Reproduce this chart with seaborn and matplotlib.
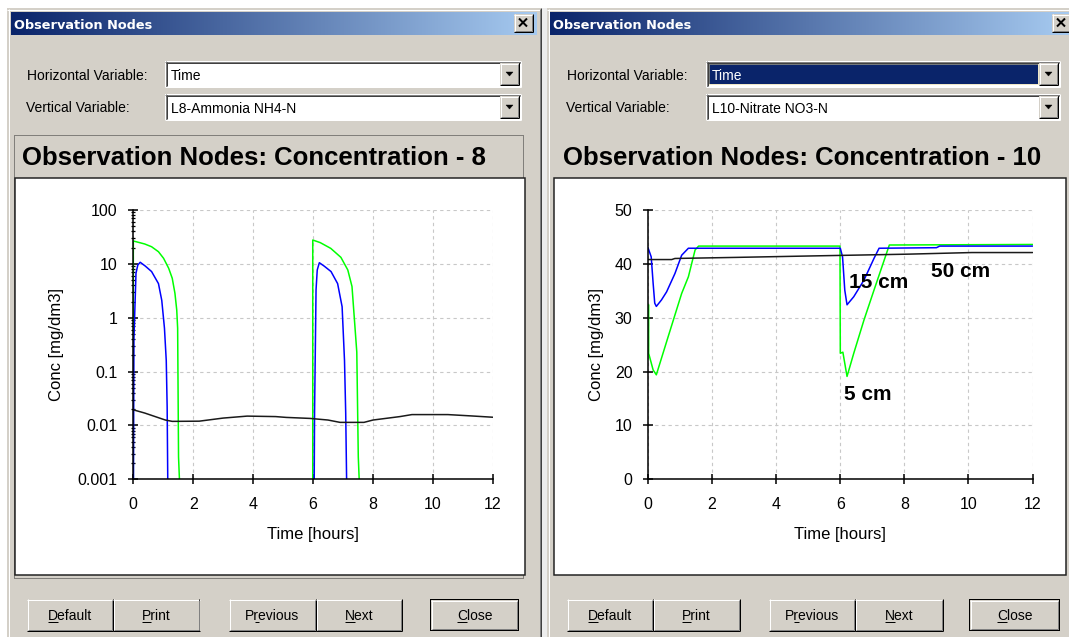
import numpy as np
import pandas as pd
import seaborn as sns
import matplotlib
matplotlib.use("Agg")
import matplotlib.pyplot as plt
from matplotlib.patches import Rectangle, Polygon
from matplotlib.lines import Line2D
from matplotlib.colors import LinearSegmentedColormap
from matplotlib.ticker import LogLocator, NullFormatter

# ---------------------------------------------------------------- data
time_ticks = [0, 2, 4, 6, 8, 10, 12]
nh4_ticks = [0.001, 0.01, 0.1, 1, 10, 100]
nh4_tick_labels = ["0.001", "0.01", "0.1", "1", "10", "100"]
no3_ticks = [0, 10, 20, 30, 40, 50]
no3_tick_labels = ["0", "10", "20", "30", "40", "50"]

nodes = ["5 cm", "15 cm", "50 cm"]
node_colors = {"5 cm": "#00FF00", "15 cm": "#0000FF", "50 cm": "#1A1A1A"}

# L8 - ammonia NH4-N [mg/dm3]; 1e-4 stands for "below 0.001"
nh4_5cm_t = [0.0, 0.0, 0.38, 0.61, 0.84, 1.01, 1.18, 1.30, 1.39, 1.45, 1.48,
             1.51, 1.54, 1.56, 5.99, 5.99, 6.24, 6.59, 6.93, 7.16, 7.30, 7.39,
             7.46, 7.51, 7.54, 7.56, 12.0]
nh4_5cm_c = [1e-4, 26.6, 23.4, 20.8, 16.8, 12.7, 8.3, 5.4, 2.84, 1.39, 0.64,
             0.0026, 0.001, 1e-4, 1e-4, 27.7, 24.8, 19.4, 13.2, 7.7, 3.8, 0.79,
             0.23, 0.0026, 0.001, 1e-4, 1e-4]

nh4_15cm_t = [0.0, 0.02, 0.09, 0.15, 0.23, 0.40, 0.61, 0.84, 0.95, 1.04, 1.10,
              1.13, 1.15, 1.17, 6.03, 6.05, 6.10, 6.14, 6.21, 6.37, 6.60, 6.82,
              6.97, 7.05, 7.09, 7.12, 7.14, 12.0]
nh4_15cm_c = [1e-4, 0.39, 6.7, 9.5, 10.7, 9.1, 7.2, 4.3, 2.1, 0.64, 0.16,
              0.022, 0.001, 1e-4, 1e-4, 0.017, 3.3, 7.7, 10.5, 9.1, 7.2, 4.3,
              1.6, 0.16, 0.017, 0.001, 1e-4, 1e-4]

nh4_50cm_t = [0.0, 0.38, 1.07, 1.30, 2.20, 3.00, 3.80, 4.75, 5.10, 5.90, 6.50,
              6.90, 7.70, 8.00, 8.90, 9.30, 10.50, 11.30, 12.0]
nh4_50cm_c = [0.0195, 0.0170, 0.0126, 0.0119, 0.0120, 0.0137, 0.0149, 0.0146,
              0.0141, 0.0135, 0.0126, 0.0114, 0.0114, 0.0126, 0.0146, 0.0159,
              0.0159, 0.0150, 0.0142]

# L10 - nitrate NO3-N [mg/dm3]
no3_5cm_t = [0.02, 0.02, 0.16, 0.26, 0.63, 1.05, 1.26, 1.47, 1.58, 5.99, 6.00,
             6.08, 6.21, 6.42, 6.74, 7.05, 7.37, 7.53, 12.0]
no3_5cm_c = [32.4, 23.4, 20.3, 19.4, 26.5, 34.5, 37.6, 42.6, 43.3, 43.3, 23.4,
             23.6, 19.1, 23.4, 29.6, 35.1, 40.7, 43.5, 43.6]

no3_15cm_t = [0.0, 0.10, 0.16, 0.21, 0.26, 0.42, 0.58, 0.84, 1.05, 1.26, 6.00,
              6.07, 6.14, 6.21, 6.42, 6.74, 7.05, 7.21, 9.00, 9.10, 12.0]
no3_15cm_c = [43.0, 41.3, 36.4, 32.7, 32.1, 33.3, 34.8, 38.2, 41.6, 42.9, 42.9,
              41.3, 35.1, 32.4, 33.9, 37.0, 41.0, 42.9, 43.0, 43.3, 43.3]

no3_50cm_t = [0.0, 0.74, 0.84, 2.74, 5.37, 8.10, 10.10, 12.0]
no3_50cm_c = [40.8, 40.8, 41.0, 41.2, 41.5, 41.8, 42.1, 42.1]


def frame(series):
    return pd.concat(
        [pd.DataFrame({"time": t, "conc": c, "node": n}) for n, t, c in series],
        ignore_index=True)


nh4 = frame([("5 cm", nh4_5cm_t, nh4_5cm_c),
             ("15 cm", nh4_15cm_t, nh4_15cm_c),
             ("50 cm", nh4_50cm_t, nh4_50cm_c)])
no3 = frame([("5 cm", no3_5cm_t, no3_5cm_c),
             ("15 cm", no3_15cm_t, no3_15cm_c),
             ("50 cm", no3_50cm_t, no3_50cm_c)])

# ---------------------------------------------------------------- style
sns.set_theme(style="white")
plt.rcParams["font.family"] = ["Liberation Sans", "DejaVu Sans"]
plt.rcParams["text.color"] = "black"
plt.rcParams["axes.labelcolor"] = "black"
plt.rcParams["xtick.color"] = "black"
plt.rcParams["ytick.color"] = "black"

W, H, DPI = 1069, 637, 100
FACE = "#D4D0C8"
NAVY = "#0A246A"
PX = 72 / DPI

fig = plt.figure(figsize=(W / DPI, H / DPI), dpi=DPI, facecolor="white")
renderer = fig.canvas.get_renderer()


def box(x0, y0, x1, y1, fc, ec="none", lw=0, z=-10, **kw):
    r = Rectangle((x0 / W, 1 - y1 / H), (x1 - x0) / W, (y1 - y0) / H,
                  transform=fig.transFigure, facecolor=fc, edgecolor=ec,
                  linewidth=lw * PX, zorder=z, **kw)
    fig.add_artist(r)
    return r


def seg(xs, ys, color, lw=1, z=-9, **kw):
    fig.add_artist(Line2D([x / W for x in xs], [1 - y / H for y in ys],
                          transform=fig.transFigure, color=color,
                          linewidth=lw * PX, zorder=z,
                          solid_capstyle="butt", **kw))


def txt(x, y, s, z=5, **kw):
    return fig.text(x / W, 1 - y / H, s, zorder=z, **kw)


def raised(x0, y0, x1, y1, z=-8, fc=FACE):
    box(x0, y0, x1, y1, fc, z=z)
    seg([x0, x1], [y0 + 0.5] * 2, "white", z=z + 0.1)
    seg([x0 + 0.5] * 2, [y0, y1], "white", z=z + 0.1)
    seg([x0, x1], [y1 - 0.5] * 2, "#000000", z=z + 0.1)
    seg([x1 - 0.5] * 2, [y0, y1], "#000000", z=z + 0.1)
    seg([x0 + 1, x1 - 1], [y1 - 1.5] * 2, "#808080", z=z + 0.1)
    seg([x1 - 1.5] * 2, [y0 + 1, y1 - 1], "#808080", z=z + 0.1)


def sunken(x0, y0, x1, y1, fc="white", z=-8):
    box(x0, y0, x1, y1, fc, z=z)
    seg([x0, x1], [y0 + 0.5] * 2, "#808080", z=z + 0.1)
    seg([x0 + 0.5] * 2, [y0, y1], "#808080", z=z + 0.1)
    seg([x0 + 1, x1 - 1], [y0 + 1.5] * 2, "#404040", z=z + 0.1)
    seg([x0 + 1.5] * 2, [y0 + 1, y1 - 1], "#404040", z=z + 0.1)
    seg([x0, x1], [y1 - 0.5] * 2, "white", z=z + 0.1)
    seg([x1 - 0.5] * 2, [y0, y1], "white", z=z + 0.1)


def arrow_down(cx, cy, z=-7):
    pts = [((cx - 3.5) / W, 1 - (cy - 2) / H), ((cx + 3.5) / W, 1 - (cy - 2) / H),
           (cx / W, 1 - (cy + 2) / H)]
    fig.add_artist(Polygon(pts, closed=True, transform=fig.transFigure,
                           facecolor="black", edgecolor="black",
                           linewidth=0.3, zorder=z))


def text_width(s, **kw):
    t = fig.text(0, 0, s, **kw)
    w = t.get_window_extent(renderer).width
    t.remove()
    return w


def button(label, x0, x1, ul=0, default=False, y0=599, y1=631):
    if default:
        box(x0, y0, x1, y1, "black", z=-8.5)
        raised(x0 + 1, y0 + 1, x1 - 1, y1 - 1)
    else:
        raised(x0, y0, x1, y1)
    cx = (x0 + x1) / 2
    kw = dict(fontsize=10, color="black")
    txt(cx, 620, label, ha="center", va="baseline", **kw)
    wf = text_width(label, **kw)
    wp = text_width(label[:ul], **kw) if ul else 0.0
    wc = text_width(label[ul], **kw)
    xs = cx - wf / 2 + wp
    seg([xs, xs + wc], [622, 622], "black", lw=1, z=5)


def title_bar(x0, x1, y0=12, y1=35, close_x=None):
    axg = fig.add_axes([x0 / W, 1 - y1 / H, (x1 - x0) / W, (y1 - y0) / H],
                       zorder=-5)
    grad = np.linspace(0, 1, 256)[None, :]
    cmap = LinearSegmentedColormap.from_list("caption", [NAVY, "#A6CAF0"])
    axg.imshow(grad, aspect="auto", cmap=cmap, extent=(0, 1, 0, 1))
    axg.set_axis_off()
    txt(x0 + 3, 29, "Observation Nodes", fontsize=9.3, fontweight="bold",
        color="white", family="DejaVu Sans", va="baseline")
    if close_x is not None:
        bx0, bx1, by0, by1 = close_x, close_x + 19, 14, 32
        raised(bx0, by0, bx1, by1, z=-4)
        cx, cy = (bx0 + bx1) / 2 - 0.5, (by0 + by1) / 2 - 0.5
        seg([cx - 4, cx + 4], [cy - 4, cy + 4], "black", lw=2, z=-3)
        seg([cx - 4, cx + 4], [cy + 4, cy - 4], "black", lw=2, z=-3)


def combo(x0, x1, y0, y1, text, highlight=False):
    sunken(x0, y0, x1, y1)
    bx0, bx1 = x1 - 21, x1 - 2
    if highlight:
        box(x0 + 3, y0 + 3, bx0 - 1, y1 - 3, NAVY, z=-7)
        box(x0 + 3, y0 + 3, bx0 - 1, y1 - 3, "none", ec="#E0D090", lw=1,
            z=-6.9, linestyle=(0, (1, 1)))
    raised(bx0, y0 + 2, bx1, y1 - 2, z=-7.5)
    arrow_down((bx0 + bx1) / 2, (y0 + y1) / 2)
    txt(x0 + 6, y1 - 7, text, fontsize=10, va="baseline",
        color="white" if highlight else "black")


def dialog(x0, x1):
    box(x0, 8, x1, H, FACE, z=-12)
    seg([x0, x1], [9.5, 9.5], "white", z=-11)
    seg([x0 + 1.5] * 2, [9, H], "white", z=-11)
    seg([x1 - 0.5] * 2, [8, H], "#404040", z=-11)
    seg([x1 - 1.5] * 2, [9, H], "#808080", z=-11)


# ---------------------------------------------------------------- chrome
box(541, 8, 547, H, "#EDEDED", z=-13)
dialog(7, 541)
dialog(547, W + 3)
title_bar(11, 537, close_x=514)
title_bar(550, W, close_x=1052)

for lx, cx0, cx1, vtext, hl in [(27, 165, 521, "L8-Ammonia NH4-N", False),
                                (567, 706, 1060, "L10-Nitrate NO3-N", True)]:
    txt(lx, 80, "Horizontal Variable:", fontsize=10, va="baseline")
    txt(lx - 1, 112, "Vertical Variable:", fontsize=10, va="baseline")
    combo(cx0, cx1, 61, 87, "Time", highlight=hl)
    combo(cx0, cx1, 94, 120, vtext)

# chart panels
box(14, 135, 523, 578, "none", ec="#303030", lw=1, z=-7,
    linestyle=(0, (1, 1)))
box(15, 178, 525, 575, "white", ec="#202020", lw=1.5, z=-6)
box(553.5, 178, 1066, 575, "white", ec="#202020", lw=1.5, z=-6)
txt(22, 165, "Observation Nodes: Concentration - 8", fontsize=18.5,
    fontweight="bold", va="baseline", color="black")
txt(563, 165, "Observation Nodes: Concentration - 10", fontsize=18.5,
    fontweight="bold", va="baseline", color="black")

for x0, x1, lab in [(27, 113, "Default"), (113, 200, "Print"),
                    (229, 316, "Previous"), (316, 402, "Next"),
                    (567, 653, "Default"), (653, 740, "Print"),
                    (769, 855, "Previous"), (855, 943, "Next")]:
    button(lab, x0, x1, ul=1 if lab == "Previous" else 0)
button("Close", 430, 519, default=True)
button("Close", 969, 1060, default=True)


# ---------------------------------------------------------------- charts
def chart_axes(x0, x1, y0=210, y1=479.3):
    ax = fig.add_axes([x0 / W, 1 - y1 / H, (x1 - x0) / W, (y1 - y0) / H])
    ax.set_facecolor("white")
    return ax


def style_axes(ax, ylab_x):
    ax.set_axisbelow(True)
    ax.grid(True, which="major", color="#C8C8C8", linewidth=0.8,
            linestyle=(0, (3, 3)))
    for s in ("top", "right"):
        ax.spines[s].set_visible(False)
    for s in ("left", "bottom"):
        ax.spines[s].set_color("black")
        ax.spines[s].set_linewidth(1.1)
    ax.tick_params(which="major", direction="inout", length=6.5, width=1.1,
                   color="black", labelsize=11.5, labelcolor="black",
                   left=True, bottom=True)
    ax.tick_params(axis="x", pad=9.5)
    ax.tick_params(axis="y", pad=8)
    ax.set_xlim(0, 12)
    ax.set_xticks(time_ticks, labels=[str(t) for t in time_ticks])
    ax.set_xlabel("Time [hours]", fontsize=12, color="black")
    ax.set_ylabel("Conc [mg/dm3]", fontsize=12, color="black")
    ax.xaxis.label.set_va("center")
    ax.yaxis.label.set_va("center")
    ax.xaxis.set_label_coords(0.5, -(534 - 479.3) / 269.3)
    ax.yaxis.set_label_coords(ylab_x, 0.5)


ax1 = chart_axes(133.3, 492.8)
ax1.set_yscale("log")
sns.lineplot(data=nh4, x="time", y="conc", hue="node", hue_order=nodes,
             palette=node_colors, estimator=None, sort=False, linewidth=1.1,
             legend=False, ax=ax1)
ax1.set_ylim(0.001, 100)
ax1.set_yticks(nh4_ticks, labels=nh4_tick_labels)
ax1.yaxis.set_minor_locator(LogLocator(base=10, subs=np.arange(2, 10)))
ax1.yaxis.set_minor_formatter(NullFormatter())
ax1.tick_params(axis="y", which="minor", direction="inout", length=3.5,
                width=0.9, color="black", left=True)
style_axes(ax1, (57 - 133.3) / 359.5)

ax2 = chart_axes(648, 1032.6)
sns.lineplot(data=no3, x="time", y="conc", hue="node", hue_order=nodes,
             palette=node_colors, estimator=None, sort=False, linewidth=1.1,
             legend=False, ax=ax2)
ax2.set_ylim(0, 50)
ax2.set_yticks(no3_ticks, labels=no3_tick_labels)
style_axes(ax2, (596 - 648) / 384.6)

for label, tx, cy in [("15 cm", 6.26, 35.5), ("50 cm", 8.84, 37.6),
                      ("5 cm", 6.10, 14.7)]:
    ax2.text(tx, cy, label, fontsize=15, fontweight="bold", color="black",
             va="baseline", ha="left")

fig.savefig("out.png", dpi=DPI, facecolor="white")
